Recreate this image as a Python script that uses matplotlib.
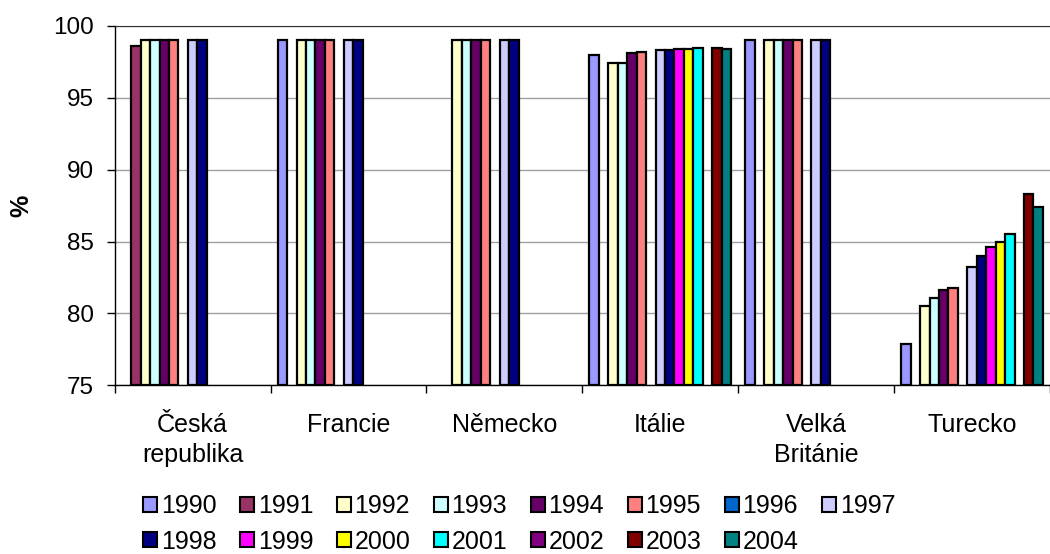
import matplotlib.pyplot as plt
import numpy as np
from matplotlib.patches import Patch

plt.rcParams['font.family'] = ['Liberation Sans', 'DejaVu Sans']

countries = ['Česká\nrepublika', 'Francie', 'Německo', 'Itálie', 'Velká\nBritánie', 'Turecko']
years = ['1990', '1991', '1992', '1993', '1994', '1995', '1996', '1997',
         '1998', '1999', '2000', '2001', '2002', '2003', '2004']
colors = ['#9999FF', '#993366', '#FFFFCC', '#CCFFFF', '#660066', '#FF8080',
          '#0066CC', '#CCCCFF', '#000080', '#FF00FF', '#FFFF00', '#00FFFF',
          '#800080', '#800000', '#008080']

nan = np.nan
# one list per country, values for 1990..2004
cz = [nan, 98.6, 99, 99, 99, 99, nan, 99, 99, nan, nan, nan, nan, nan, nan]
fr = [99, nan, 99, 99, 99, 99, nan, 99, 99, nan, nan, nan, nan, nan, nan]
de = [nan, nan, 99, 99, 99, 99, nan, 99, 99, nan, nan, nan, nan, nan, nan]
it = [98.0, nan, 97.4, 97.4, 98.1, 98.2, nan, 98.3, 98.3, 98.4, 98.4, 98.5, nan, 98.5, 98.4]
uk = [99, nan, 99, 99, 99, 99, nan, 99, 99, nan, nan, nan, nan, nan, nan]
tr = [77.9, nan, 80.5, 81.1, 81.6, 81.8, nan, 83.2, 84.0, 84.6, 85.0, 85.5, nan, 88.3, 87.4]

data = np.array([cz, fr, de, it, uk, tr])

fig = plt.figure(figsize=(10.5, 5.54), dpi=100)
ax = fig.add_axes([0.1092, 0.3045, 0.8908, 0.6486])

n = len(years)
w = 1 / (n + 1.5)
x = np.arange(len(countries))
for i, yr in enumerate(years):
    vals = data[:, i]
    ax.bar(x + (i - (n - 1) / 2) * w, vals - 75, bottom=75, width=w,
           color=colors[i], edgecolor='black', linewidth=1.6, zorder=3)

ax.set_ylim(75, 100)
ax.set_xlim(-0.5, -0.5 + (1050 - 114.7) / 157.3)
ax.set_yticks([75, 80, 85, 90, 95, 100])
ax.yaxis.grid(True, color='#a0a0a0', linewidth=1, zorder=0)
ax.set_axisbelow(True)

ax.set_xticks(np.arange(len(countries) + 1) - 0.5)
ax.set_xticklabels([])
ax.set_xticks(x, minor=True)
ax.set_xticklabels(countries, minor=True, fontsize=18, linespacing=1.3)
ax.tick_params(axis='x', which='minor', length=0, pad=20)
ax.tick_params(axis='x', which='major', length=6, width=1, direction='out')
ax.tick_params(axis='y', length=6, width=1, direction='out', labelsize=17.5, pad=9)

ax.spines['right'].set_visible(False)
ax.spines['top'].set_color('#303030')
ax.spines['left'].set_linewidth(1)
ax.spines['bottom'].set_linewidth(1)

ax.set_ylabel('%', fontsize=18, fontweight='bold', labelpad=14)

# legend filled row by row: reorder for matplotlib's column-wise filling
order = []
for c in range(8):
    order.append(c)
    if c + 8 < n:
        order.append(c + 8)
handles = [Patch(facecolor=colors[k], edgecolor='black', linewidth=1.5) for k in order]
labels = [years[k] for k in order]
fig.legend(handles, labels, loc='lower left', bbox_to_anchor=(0.115, -0.04),
           ncol=8, frameon=False, fontsize=18, handlelength=0.55, handleheight=0.55,
           handletextpad=0.15, columnspacing=0.95, labelspacing=0.45)

fig.savefig('out.png', dpi=100)
